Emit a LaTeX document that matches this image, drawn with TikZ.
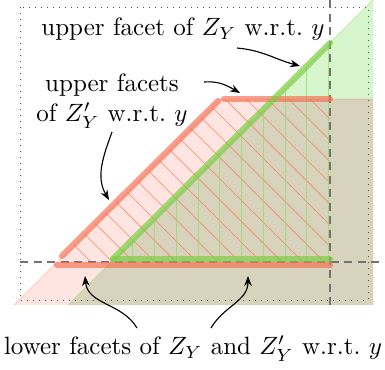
\documentclass[tikz,border=0pt]{standalone}
\usetikzlibrary{arrows.meta}
\definecolor{pinkfill}{RGB}{255,229,226}
\definecolor{greenfill}{RGB}{216,246,206}
\definecolor{tanfill}{RGB}{216,211,188}
\definecolor{redfacet}{RGB}{245,115,85}
\definecolor{greenfacet}{RGB}{125,205,65}
\definecolor{redhatch}{RGB}{245,125,95}
\definecolor{greenhatch}{RGB}{150,220,110}
\tikzset{
  facetline/.style={line width=2.5pt, line cap=round, opacity=0.68},
  hatchline/.style={line width=0.3pt, opacity=0.75},
  guide/.style={black!55, line width=0.55pt, dash pattern=on 3.2pt off 2.2pt},
  callout/.style={black, line width=0.45pt, -{Stealth[length=4pt,width=3pt]}},
  label/.style={inner sep=0pt}
}
\begin{document}
\begin{tikzpicture}[x=0.4pt,y=-0.4pt]
\useasboundingbox (0,0) rectangle (385,369);
% regions
\fill[pinkfill] (14,305) -- (220,99) -- (274,99) -- (68,305) -- cycle;
\fill[greenfill] (274,99) -- (373,0) -- (373,99) -- cycle;
\fill[tanfill] (68,305) -- (274,99) -- (373,99) -- (373,305) -- cycle;
\draw[redhatch, opacity=0.3, line width=0.4pt] (14,305) -- (220,99) -- (373,99);
\draw[greenhatch, opacity=0.5, line width=0.4pt] (68,305) -- (373,0);
% red hatch
\begin{scope}
\clip (57,262) -- (220,99) -- (330,99) -- (330,262) -- cycle;
\foreach \k in {-14,...,10}
  \draw[redhatch, hatchline] ({126+21.2*\k},0) -- ++(420,420);
\end{scope}
% green hatch
\foreach \k in {1,...,10}
  \draw[greenhatch, hatchline] ({111+21.75*\k},262) -- ({111+21.75*\k},{262-21.75*\k});
% guides
\draw[black!70, dotted, line width=0.4pt] (20,7) rectangle (368,300);
\draw[guide] (20,262) -- (385,262);
\draw[guide] (330,0) -- (330,305);
% facets
\draw[redfacet, facetline] (62,256) -- (218,101);
\draw[redfacet, facetline] (224,99) -- (330,99);
\draw[redfacet, facetline] (57,265) -- (330,265);
\draw[greenfacet, facetline] (113,259) -- (330,43);
\draw[greenfacet, facetline] (113,259) -- (330,259);
% labels
\node[label] (ut) at (183,29) {upper facet of $Z_Y$ w.r.t.\ $y$};
\node[label, align=center] (uf) at (112,101) {upper facets\\ of $Z'_Y$ w.r.t.\ $y$};
\node[label] (lf) at (193,349) {lower facets of $Z_Y$ and $Z'_Y$ w.r.t.\ $y$};
% arrow targets
\coordinate (tg) at (300,66);
\coordinate (tr) at (240,93);
\coordinate (tl) at (109,200);
\coordinate (ta) at (85,276);
\coordinate (tb) at (248,276);
\draw[callout] (237,48) to[out=-5,in=165] (tg);
\draw[callout] (204,82) to[out=5,in=150] (tr);
\draw[callout] (112,132) to[out=-110,in=120] (tl);
\draw[callout] (137,328) to[out=120,in=-85] (ta);
\draw[callout] (211,328) to[out=60,in=-90] (tb);
\end{tikzpicture}
\end{document}
